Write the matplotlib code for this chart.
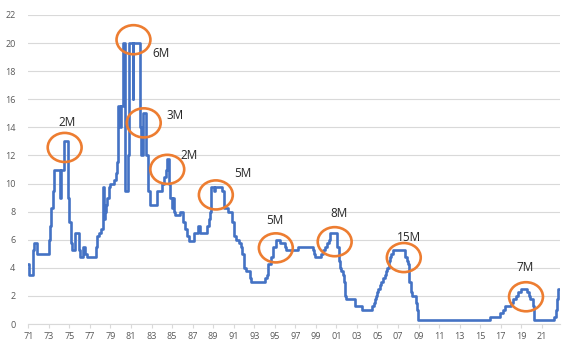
import matplotlib.pyplot as plt
from matplotlib.patches import Ellipse

plt.rcParams['font.family'] = ['Open Sans', 'DejaVu Sans']

# Fed funds rate (%), value holds from each date until the next one
years = [1971.00, 1971.08, 1971.42, 1971.52, 1971.80, 1973.04, 1973.14, 1973.24, 1973.38, 1973.50,
         1974.08, 1974.20, 1974.45, 1974.85, 1974.98, 1975.12, 1975.25, 1975.55, 1975.95, 1976.05,
         1976.30, 1976.55, 1976.70, 1977.60, 1977.70, 1977.85, 1978.10, 1978.25, 1978.33, 1978.45,
         1978.60, 1978.70, 1978.82, 1978.95, 1979.35, 1979.50, 1979.60, 1979.75, 1979.90, 1980.02,
         1980.18, 1980.40, 1980.68, 1980.84, 1981.15, 1981.22, 1981.83, 1981.93, 1982.20, 1982.50,
         1982.62, 1982.84, 1983.52, 1984.02, 1984.25, 1984.40, 1984.52, 1984.74, 1984.84, 1984.98,
         1985.08, 1985.20, 1985.32, 1985.80, 1986.10, 1986.30, 1986.45, 1986.60, 1987.15, 1987.55,
         1987.75, 1988.40, 1988.62, 1988.70, 1988.83, 1989.05, 1989.15, 1989.85, 1990.02, 1990.42,
         1990.85, 1991.05, 1991.25, 1991.50, 1991.70, 1991.85, 1992.00, 1992.20, 1992.55, 1992.70,
         1994.09, 1994.20, 1994.30, 1994.60, 1994.87, 1995.09, 1995.52, 1995.96, 1996.08, 1997.23,
         1998.74, 1998.80, 1998.88, 1999.49, 1999.65, 1999.88, 2000.09, 2000.23, 2000.39, 2001.01,
         2001.08, 2001.22, 2001.30, 2001.38, 2001.49, 2001.64, 2001.72, 2001.80, 2001.88, 2001.95,
         2002.85, 2003.49, 2004.49, 2004.62, 2004.72, 2004.87, 2004.96, 2005.09, 2005.22, 2005.38,
         2005.55, 2005.72, 2005.84, 2005.96, 2006.08, 2006.24, 2006.36, 2006.49, 2007.72, 2007.83,
         2007.96, 2008.06, 2008.09, 2008.22, 2008.33, 2008.77, 2008.83, 2008.96, 2015.96, 2016.96,
         2017.21, 2017.46, 2017.96, 2018.22, 2018.46, 2018.72, 2018.96, 2019.58, 2019.71, 2019.83,
         2020.17, 2020.21, 2022.21, 2022.34, 2022.46, 2022.57, 2022.68]
rates = [4.25, 3.5, 5.25, 5.75, 5.0, 6.0, 7.0, 8.25, 9.5, 11.0,
         9.0, 11.0, 13.0, 9.0, 7.25, 5.75, 5.25, 6.5, 5.25, 4.75,
         5.5, 5.0, 4.75, 5.5, 6.25, 6.5, 6.75, 9.75, 7.5, 8.0,
         8.5, 9.0, 9.75, 10.0, 10.25, 10.75, 11.5, 15.5, 14.0, 15.5,
         20.0, 9.5, 12.0, 20.0, 16.0, 20.0, 14.0, 12.0, 15.0, 12.0,
         9.5, 8.5, 9.5, 10.0, 10.5, 11.0, 11.75, 10.0, 9.0, 8.25,
         9.0, 8.0, 7.75, 8.0, 7.25, 6.75, 6.25, 5.875, 6.5, 7.0,
         6.5, 7.0, 7.5, 8.0, 9.75, 9.5, 9.75, 9.5, 8.25, 8.0,
         7.25, 6.25, 6.0, 5.75, 5.5, 5.0, 4.0, 3.75, 3.25, 3.0,
         3.25, 3.5, 4.25, 4.75, 5.5, 6.0, 5.75, 5.5, 5.25, 5.5,
         5.25, 5.0, 4.75, 5.0, 5.25, 5.5, 5.75, 6.0, 6.5, 6.0,
         5.5, 5.0, 4.5, 4.0, 3.75, 3.5, 3.0, 2.5, 2.0, 1.75,
         1.25, 1.0, 1.25, 1.5, 1.75, 2.0, 2.25, 2.5, 2.75, 3.0,
         3.25, 3.5, 3.75, 4.0, 4.5, 4.75, 5.0, 5.25, 4.75, 4.5,
         4.25, 3.5, 3.0, 2.25, 2.0, 1.5, 1.0, 0.25, 0.5, 0.75,
         1.0, 1.25, 1.5, 1.75, 2.0, 2.25, 2.5, 2.25, 2.0, 1.75,
         1.25, 0.25, 0.5, 1.0, 1.75, 2.5, 2.5]

# hiking-cycle peaks: circle centre and the label with months held at the top
peak_x = [1974.54, 1981.24, 1982.24, 1984.53, 1989.26, 1995.10, 2000.83, 2007.56, 2019.46]
peak_y = [12.57, 20.24, 14.32, 11.01, 9.19, 5.42, 5.86, 4.73, 1.94]
peak_labels = ['2M', '6M', '3M', '2M', '5M', '5M', '8M', '15M', '7M']
label_x = [1974.74, 1983.92, 1985.28, 1986.65, 1991.86, 1994.97, 2001.23, 2008.05, 2019.41]
label_y = [14.36, 19.29, 14.84, 11.97, 10.69, 7.37, 7.85, 6.13, 3.99]

tick_years = list(range(1971, 2022, 2))
tick_labels = [f'{y % 100:02d}' for y in tick_years]

fig = plt.figure(figsize=(5.68, 3.48), dpi=100)
ax = fig.add_axes([28 / 568, 24 / 348, 532 / 568, 309 / 348])

ax.plot(years, rates, drawstyle='steps-post', color='#4472C4', lw=1.9, zorder=3)

for cx, cy in zip(peak_x, peak_y):
    ax.add_patch(Ellipse((cx, cy), 3.3, 2.07, fill=False, edgecolor='#ED7D31', lw=1.9, zorder=4))
for tx, ty, t in zip(label_x, label_y, peak_labels):
    ax.text(tx, ty, t, ha='center', va='center', fontsize=8.5, color='#262626', zorder=5)

ax.set_xlim(1970.97, 2022.77)
ax.set_ylim(0, 22)
ax.set_yticks(range(0, 23, 2))
ax.set_xticks(tick_years)
ax.set_xticklabels(tick_labels)

ax.grid(axis='y', color='#D9D9D9', lw=0.8)
ax.set_axisbelow(True)
for side in ['top', 'right', 'left']:
    ax.spines[side].set_visible(False)
ax.spines['bottom'].set_color('#D9D9D9')
ax.spines['bottom'].set_linewidth(0.8)

ax.tick_params(axis='y', length=0, pad=9, labelsize=6.5, labelcolor='#595959')
ax.tick_params(axis='x', length=3, width=0.8, color='#D9D9D9', pad=3, labelsize=6.5, labelcolor='#595959')

fig.savefig('out.png', dpi=100)
